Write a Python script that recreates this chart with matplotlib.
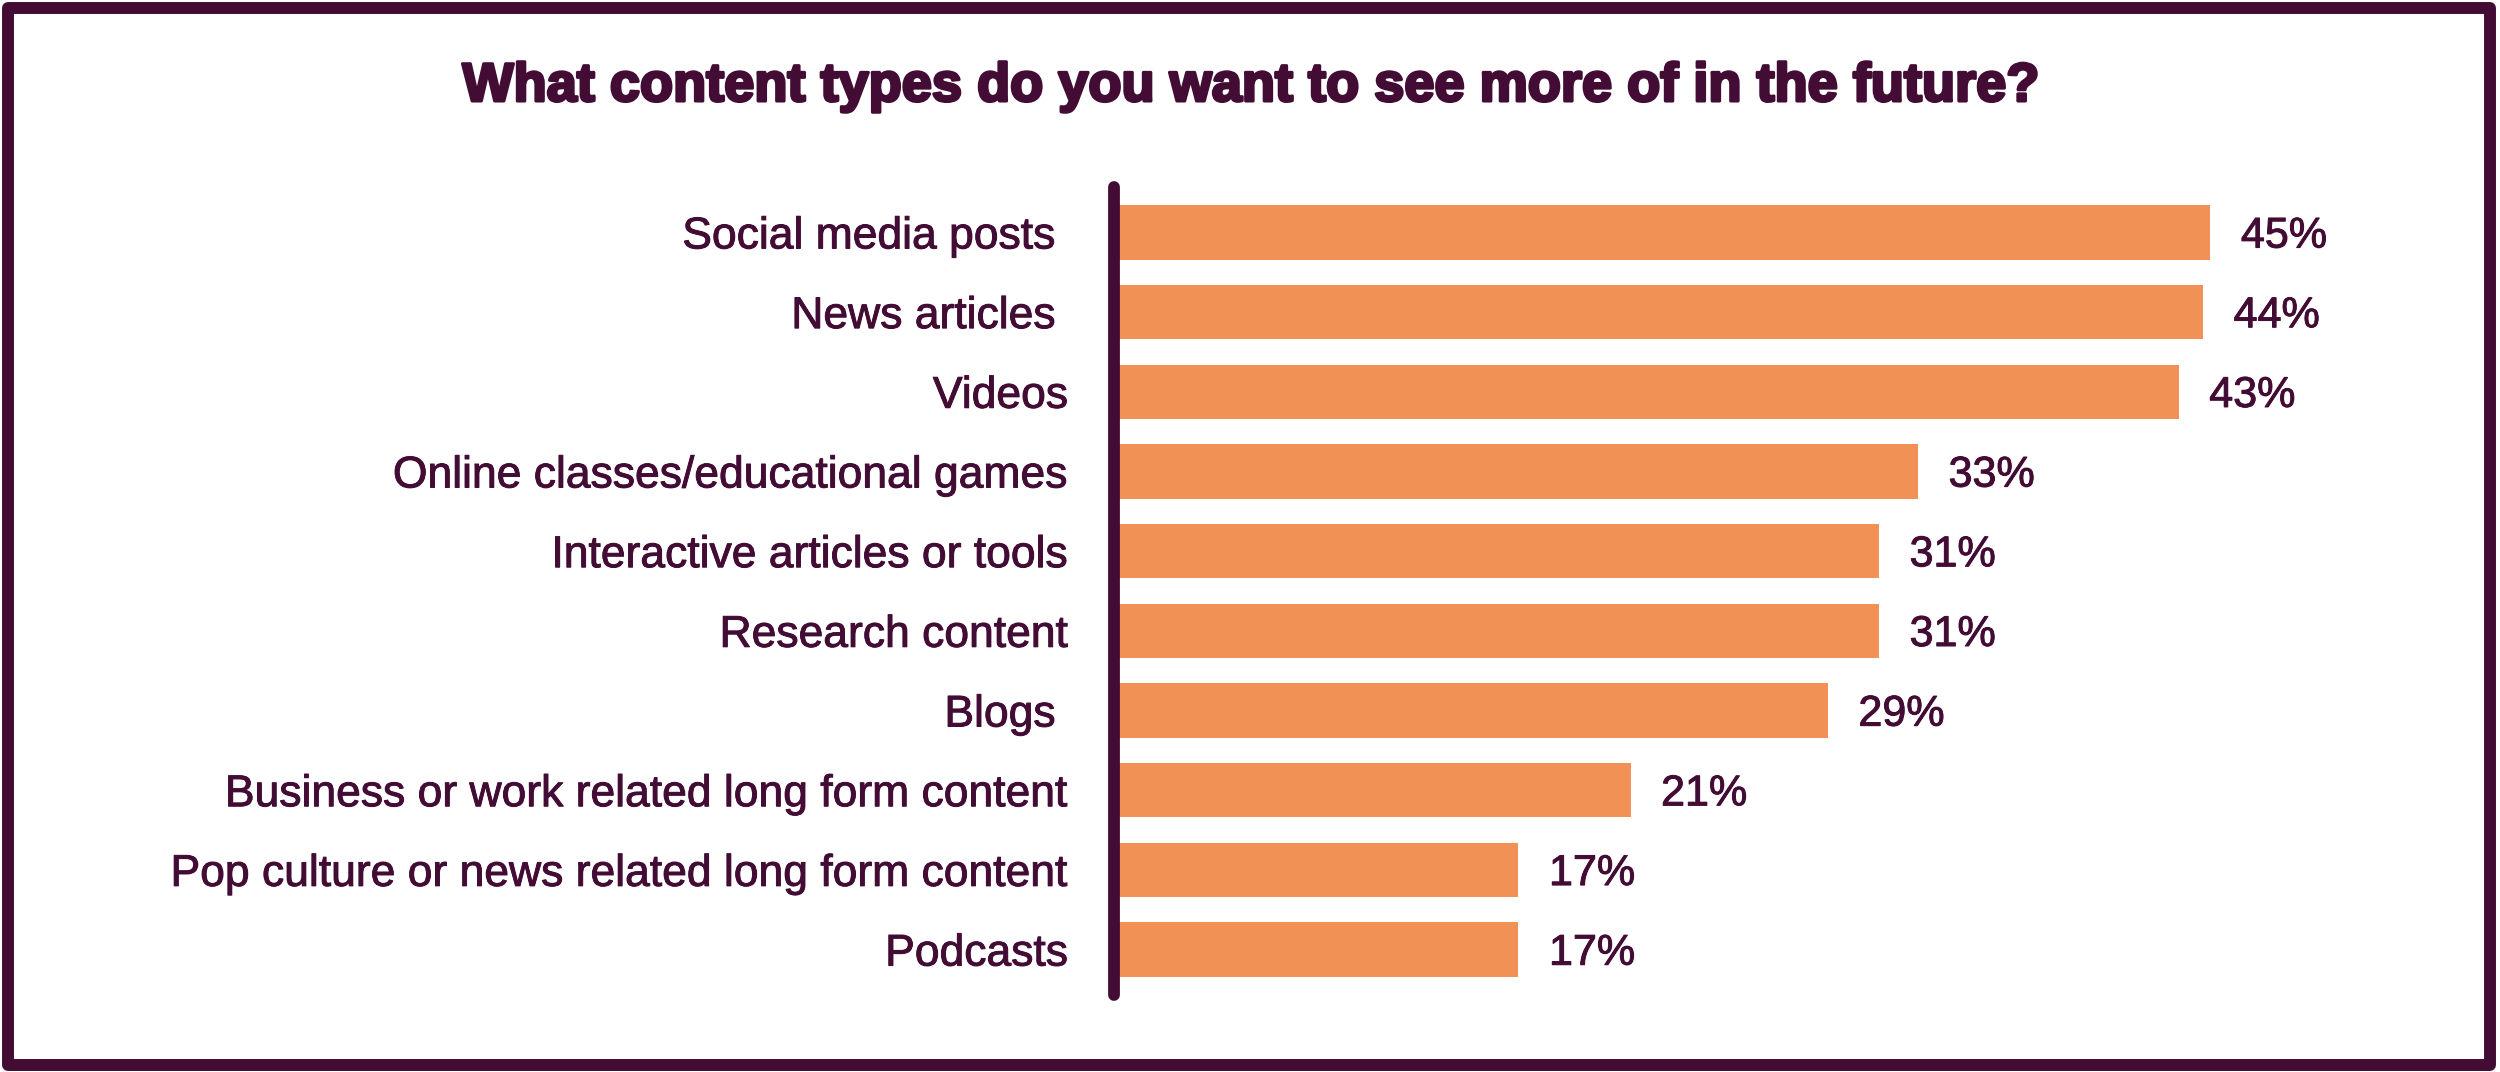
import matplotlib
matplotlib.use("Agg")
import matplotlib.pyplot as plt
from matplotlib.patches import Rectangle
import matplotlib.patheffects as pe

# ---- data ----
categories = [
    "Social media posts ",
    "News articles ",
    "Videos",
    "Online classes/educational games",
    "Interactive articles or tools",
    "Research content",
    "Blogs ",
    "Business or work related long form content",
    "Pop culture or news related long form content",
    "Podcasts",
]
values = [45.0, 44.7, 43.7, 33.0, 31.4, 31.4, 29.3, 21.2, 16.6, 16.6]
value_labels = ["45%", "44%", "43%", "33%", "31%", "31%", "29%", "21%", "17%", "17%"]
title = "What content types do you want to see more of in the future?"

PURPLE = "#430C35"
ORANGE = "#F29155"

W, H = 2500, 1072
DPI = 100
fig = plt.figure(figsize=(W / DPI, H / DPI), dpi=DPI)
fig.patch.set_facecolor("white")

font = ["Liberation Sans", "DejaVu Sans"]
thin_stroke = [pe.withStroke(linewidth=0.7, foreground=PURPLE)]

# axes placement (pixels -> figure fraction)
ax_left, ax_right = 1114, 2454
ax_top, ax_bottom = 187, 995
ax = fig.add_axes([ax_left / W, 1 - ax_bottom / H, (ax_right - ax_left) / W, (ax_bottom - ax_top) / H])
ax.set_facecolor("none")

ypos = list(range(len(categories)))
ax.barh(ypos, values, height=0.68, color=ORANGE, edgecolor="none", zorder=1)
ax.set_xlim(0, 55)
ax.set_ylim(len(categories) - 1 + 0.57, -0.57)

for y, v, lab in zip(ypos, values, value_labels):
    ax.annotate(lab, xy=(v, y), xytext=(22, -3), textcoords="offset points",
                ha="left", va="center", fontsize=31, color=PURPLE, family=font,
                path_effects=thin_stroke)

ax.set_yticks(ypos)
ax.set_yticklabels(categories, fontsize=32, color=PURPLE, family=font)
for t in ax.get_yticklabels():
    t.set_path_effects(thin_stroke)
ax.tick_params(axis="y", length=0, pad=33)
ax.set_xticks([])
for s in ["top", "right", "bottom"]:
    ax.spines[s].set_visible(False)
ax.spines["left"].set_color(PURPLE)
ax.spines["left"].set_linewidth(8.5)
ax.spines["left"].set_capstyle("round")
ax.spines["left"].set_zorder(3)

fig.text(0.5, 1 - 87 / H, title, ha="center", va="center", fontsize=39,
         fontweight="bold", color=PURPLE, family=font,
         path_effects=[pe.withStroke(linewidth=2.2, foreground=PURPLE)])

# outer frame
frame = Rectangle((8 / W, 7 / H), (W - 18) / W, (H - 15) / H, transform=fig.transFigure,
                  fill=False, edgecolor=PURPLE, linewidth=8.6, joinstyle="round", zorder=10)
fig.patches.append(frame)

fig.savefig("out.png", dpi=DPI, facecolor="white")
